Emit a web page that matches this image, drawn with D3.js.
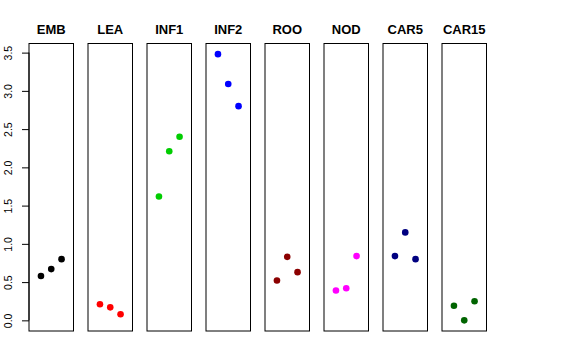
<!DOCTYPE html>
<html>
<head>
<meta charset="utf-8">
<script src="https://cdn.jsdelivr.net/npm/d3@7"></script>
<style>
  body { margin: 0; background: #fff; }
  text { font-family: "Liberation Sans", Arial, sans-serif; }
</style>
</head>
<body>
<svg width="576" height="360"></svg>
<script>

let groups = ['EMB', 'LEA', 'INF1', 'INF2', 'ROO', 'NOD', 'CAR5', 'CAR15']
let colors = ['#000000', '#ff0000', '#00cd00', '#0000ff', '#8b0000', '#ff00ff', '#000080', '#006400']

let replicates = [1, 2, 3]
let values = [
  [0.58, 0.67, 0.80],
  [0.21, 0.17, 0.08],
  [1.62, 2.21, 2.40],
  [3.48, 3.09, 2.80],
  [0.52, 0.83, 0.63],
  [0.39, 0.42, 0.84],
  [0.84, 1.15, 0.80],
  [0.19, 0.00, 0.25]
]
let yTicks = [0, 0.5, 1, 1.5, 2, 2.5, 3, 3.5]

let svg = d3.select('svg')

let plotTop = 43.5, plotBottom = 331
let left = 29, panelW = 44.5, pitch = 59

// shared y scale, R style 4% padding
let all = values.flat()
let lo = d3.min(all), hi = d3.max(all)
let pad = (hi - lo) * 0.04
let y = d3.scaleLinear().domain([lo - pad, hi + pad]).range([plotBottom, plotTop])

// x inside each panel: xlim 0..4 padded 4%
let x = d3.scaleLinear().domain([-0.16, 4.16]).range([0, panelW])

let panel = svg.selectAll('g.panel')
  .data(groups)
  .enter().append('g')
  .attr('class', 'panel')
  .attr('transform', (d, i) => 'translate(' + (left + i * pitch) + ',0)')

panel.append('text')
  .attr('x', panelW / 2)
  .attr('y', 34)
  .attr('text-anchor', 'middle')
  .attr('font-size', 13)
  .attr('font-weight', 'bold')
  .text(d => d)

panel.selectAll('circle')
  .data((d, i) => values[i].map((v, j) => ({ x: replicates[j], v: v, c: colors[i] })))
  .enter().append('circle')
  .attr('cx', d => x(d.x))
  .attr('cy', d => y(d.v))
  .attr('r', 3.3)
  .attr('fill', d => d.c)

panel.append('rect')
  .attr('x', 0)
  .attr('y', plotTop)
  .attr('width', panelW)
  .attr('height', plotBottom - plotTop)
  .attr('fill', 'none')
  .attr('stroke', '#000')
  .attr('stroke-width', 1)

// y axis on the first panel
let axis = svg.append('g')
  .attr('transform', 'translate(' + left + ',0)')
  .call(d3.axisLeft(y).tickValues(yTicks).tickSize(7).tickSizeOuter(0).tickPadding(4)
    .tickFormat(d3.format('.1f')))

axis.select('.domain')
  .attr('d', 'M0,' + y(0) + 'V' + y(3.5))

axis.selectAll('text')
  .attr('font-size', 10.5)
  .attr('font-family', '"Liberation Sans", Arial, sans-serif')
  .attr('fill', '#000')
  .attr('text-anchor', 'middle')
  .attr('dy', null)
  .attr('x', null)
  .attr('transform', 'translate(-20,0) rotate(-90)')
  .attr('dominant-baseline', 'middle')

</script>
</body>
</html>
